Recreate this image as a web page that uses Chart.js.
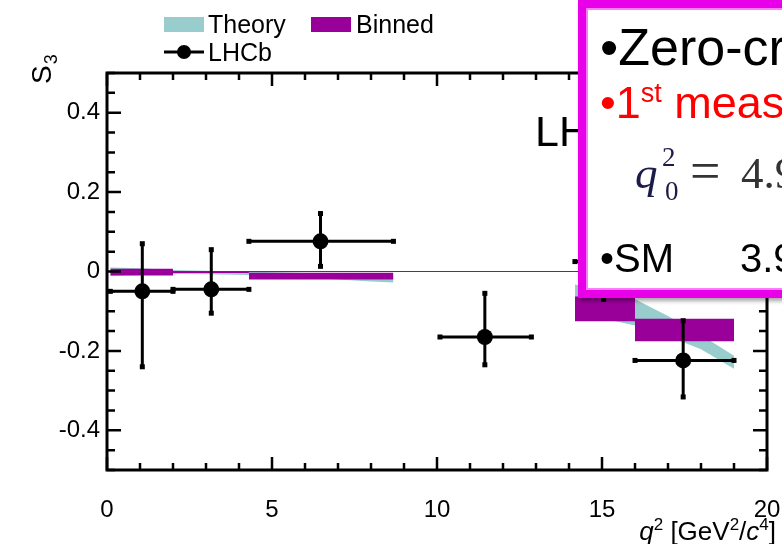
<!DOCTYPE html>
<html>
<head>
<meta charset="utf-8">
<script src="https://cdn.jsdelivr.net/npm/chart.js@4.4.1/dist/chart.umd.min.js"></script>
<style>
html,body{margin:0;padding:0;width:782px;height:544px;overflow:hidden;background:#fff;}
#wrap{position:relative;width:782px;height:544px;overflow:hidden;}
#c{position:absolute;left:0;top:0;}
#box{position:absolute;left:578px;top:0px;width:320px;height:282px;border:8px solid #e800e8;background:#fff;
 box-shadow:2px 3px 4px rgba(0,0,0,0.35), inset 0 0 0 2px #ff7cff;}
.t{position:absolute;white-space:nowrap;line-height:1;font-family:"Liberation Sans",Arial,Helvetica,sans-serif;color:#000;}
.m{position:absolute;white-space:nowrap;line-height:1;font-family:"Liberation Serif","Times New Roman",serif;}
</style>
</head>
<body>
<div id="wrap">
<canvas id="c" width="782" height="544"></canvas>
<div id="box"></div>
<div class="t" style="left:600px;top:21px;font-size:52px;">•Zero-crossing</div>
<div class="t" style="left:600px;top:80px;font-size:45px;color:#ff0000;">•1<span style="font-size:27px;position:relative;top:-16px;">st</span> measurement</div>
<div class="m" style="left:635px;top:151px;font-size:45px;font-style:italic;color:#1c1c48;">q</div>
<div class="m" style="left:662px;top:144px;font-size:27px;color:#1c1c48;">2</div>
<div class="m" style="left:665px;top:178px;font-size:27px;color:#1c1c48;">0</div>
<div class="m" style="left:690px;top:144px;font-size:54px;color:#333;">=</div>
<div class="m" style="left:741px;top:151px;font-size:45px;color:#333;">4.9</div>
<div class="t" style="left:600px;top:238px;font-size:40px;">•SM</div>
<div class="t" style="left:740px;top:238px;font-size:40px;">3.9</div>
</div>
<script>
// ---------------- data ----------------
const X_TICK_LABELS = [0, 5, 10, 15, 20];
const Y_TICK_LABELS = [-0.4, -0.2, 0, 0.2, 0.4];

// LHCb measurements of S3
const LHCB_Q2     = [1.07, 3.16, 6.47, 11.45, 15.05, 17.46];
const LHCB_Q2_LO  = [0.10, 2.00, 4.30, 10.09, 14.18, 16.00];
const LHCB_Q2_HI  = [2.00, 4.30, 8.68, 12.86, 16.00, 19.00];
const LHCB_S3     = [-0.05, -0.045, 0.076, -0.165, 0.025, -0.224];
const LHCB_ERR_UP = [0.12, 0.10, 0.07, 0.11, 0.10, 0.10];
const LHCB_ERR_DN = [0.19, 0.06, 0.063, 0.07, 0.095, 0.092];

// Binned SM prediction (boxes)
const BIN_LO  = [0.10, 2.00, 4.30, 14.18, 16.00];
const BIN_HI  = [2.00, 4.30, 8.68, 16.00, 19.00];
const BIN_MIN = [-0.010, -0.004, -0.020, -0.125, -0.176];
const BIN_MAX = [0.007, 0.000, -0.003, -0.063, -0.119];

// Theory band (two q2 regions)
const TH_Q2_A = [0.1, 1, 2, 3, 4.3, 5, 6, 7, 8, 8.68];
const TH_LO_A = [-0.011, -0.009, -0.006, -0.007, -0.009, -0.011, -0.015, -0.020, -0.025, -0.028];
const TH_HI_A = [0.010, 0.008, 0.004, 0.002, 0.000, -0.002, -0.004, -0.006, -0.008, -0.010];
const TH_Q2_B = [14.18, 15, 16, 17, 18, 19];
const TH_LO_B = [-0.100, -0.118, -0.136, -0.163, -0.196, -0.245];
const TH_HI_B = [-0.033, -0.050, -0.070, -0.112, -0.160, -0.212];

const TEAL = '#99cccc';
const PURPLE = '#990099';
// --------------------------------------

const pts = (xs, ys) => xs.map((x, i) => ({x: x, y: ys[i]}));
const datasets = [];

datasets.push({
  label: 'LHCb', data: pts(LHCB_Q2, LHCB_S3), showLine: false,
  pointRadius: 8, pointHoverRadius: 8, pointBackgroundColor: '#000', pointBorderColor: '#000', pointBorderWidth: 0,
  order: 0, errUp: LHCB_ERR_UP, errDn: LHCB_ERR_DN, xLo: LHCB_Q2_LO, xHi: LHCB_Q2_HI
});
datasets.push({
  label: 'zero', data: [{x: 0, y: 0}, {x: 20, y: 0}], borderColor: '#444', borderWidth: 1,
  pointRadius: 0, fill: false, order: 1
});
BIN_LO.forEach((lo, i) => {
  datasets.push({label: 'Binned', data: [{x: lo, y: BIN_MIN[i]}, {x: BIN_HI[i], y: BIN_MIN[i]}],
    borderColor: 'transparent', borderWidth: 0, pointRadius: 0, fill: false, order: 2});
  datasets.push({label: 'Binned', data: [{x: lo, y: BIN_MAX[i]}, {x: BIN_HI[i], y: BIN_MAX[i]}],
    borderColor: 'transparent', borderWidth: 0, pointRadius: 0, fill: '-1', backgroundColor: PURPLE, order: 2});
});
[[TH_Q2_A, TH_LO_A, TH_HI_A], [TH_Q2_B, TH_LO_B, TH_HI_B]].forEach(([q, lo, hi]) => {
  datasets.push({label: 'Theory', data: pts(q, lo), borderColor: 'transparent', borderWidth: 0,
    pointRadius: 0, fill: false, order: 3});
  datasets.push({label: 'Theory', data: pts(q, hi), borderColor: 'transparent', borderWidth: 0,
    pointRadius: 0, fill: '-1', backgroundColor: TEAL, order: 3});
});

const FONT = '"Liberation Sans", Arial, Helvetica, sans-serif';

const errorBars = {
  id: 'errorBars',
  beforeDatasetDraw(chart, args) {
    const ds = chart.data.datasets[args.index];
    if (!ds.errUp) return;
    const xs = chart.scales.x, ys = chart.scales.y, ctx = chart.ctx;
    ctx.save();
    ctx.strokeStyle = '#000'; ctx.fillStyle = '#000'; ctx.lineWidth = 3;
    ds.data.forEach((p, i) => {
      const px = xs.getPixelForValue(p.x), py = ys.getPixelForValue(p.y);
      const x0 = xs.getPixelForValue(ds.xLo[i]), x1 = xs.getPixelForValue(ds.xHi[i]);
      const y0 = ys.getPixelForValue(p.y + ds.errUp[i]), y1 = ys.getPixelForValue(p.y - ds.errDn[i]);
      ctx.beginPath();
      ctx.moveTo(x0, py); ctx.lineTo(x1, py);
      ctx.moveTo(px, y0); ctx.lineTo(px, y1);
      ctx.stroke();
      [[x0, py], [x1, py], [px, y0], [px, y1]].forEach(([cx, cy]) => ctx.fillRect(cx - 2.5, cy - 2.5, 5, 5));
    });
    ctx.restore();
  }
};

const frame = {
  id: 'frame',
  afterDatasetsDraw(chart) {
    const ctx = chart.ctx, a = chart.chartArea, xs = chart.scales.x, ys = chart.scales.y;
    ctx.save();
    ctx.strokeStyle = '#000';
    ctx.lineWidth = 2.5;
    ctx.beginPath();
    for (let v = 0; v <= 20; v++) {
      const px = xs.getPixelForValue(v);
      const L = v % 5 === 0 ? 13 : 7;
      ctx.moveTo(px, a.bottom); ctx.lineTo(px, a.bottom - L);
      ctx.moveTo(px, a.top); ctx.lineTo(px, a.top + L);
    }
    for (let k = -10; k <= 10; k++) {
      const py = ys.getPixelForValue(k * 0.05);
      const L = k % 4 === 0 ? 14 : 8;
      ctx.moveTo(a.left, py); ctx.lineTo(a.left + L, py);
      ctx.moveTo(a.right, py); ctx.lineTo(a.right - L, py);
    }
    ctx.stroke();
    ctx.lineWidth = 3;
    ctx.strokeRect(a.left, a.top, a.right - a.left, a.bottom - a.top);
    ctx.restore();
  },
  afterDraw(chart) {
    const ctx = chart.ctx, a = chart.chartArea;
    ctx.save();
    ctx.fillStyle = '#000';
    ctx.textBaseline = 'alphabetic';
    // legend
    ctx.fillStyle = TEAL; ctx.fillRect(164, 17, 40, 15);
    ctx.fillStyle = PURPLE; ctx.fillRect(311, 17, 40, 15);
    ctx.fillStyle = '#000';
    ctx.font = '25px ' + FONT;
    ctx.fillText('Theory', 208, 33);
    ctx.fillText('Binned', 356, 33);
    ctx.fillText('LHCb', 208, 61);
    ctx.lineWidth = 3; ctx.strokeStyle = '#000';
    ctx.beginPath(); ctx.moveTo(164, 52); ctx.lineTo(204, 52); ctx.stroke();
    ctx.beginPath(); ctx.arc(184, 52, 7, 0, Math.PI * 2); ctx.fill();
    // LHCb label in plot
    ctx.font = '43px ' + FONT;
    ctx.fillText('LHCb', 535, 146);
    // y title S_3 (rotated)
    ctx.save();
    ctx.translate(51, 84);
    ctx.rotate(-Math.PI / 2);
    ctx.font = '28px ' + FONT;
    ctx.fillText('S', 0, 0);
    const w = ctx.measureText('S').width;
    ctx.font = '18px ' + FONT;
    ctx.fillText('3', w + 1, 6);
    ctx.restore();
    // x title q^2 [GeV^2/c^4], right aligned
    const parts = [
      ['q', 'italic 26px ', 0], ['2', '17px ', -10], [' [GeV', '26px ', 0], ['2', '17px ', -10],
      ['/', '26px ', 0], ['c', 'italic 26px ', 0], ['4', '17px ', -10], [']', '26px ', 0]
    ];
    let total = 0;
    parts.forEach(p => { ctx.font = p[1] + FONT; total += ctx.measureText(p[0]).width; });
    let x = 776 - total;
    parts.forEach(p => { ctx.font = p[1] + FONT; ctx.fillText(p[0], x, 540 + p[2]); x += ctx.measureText(p[0]).width; });
    ctx.restore();
  }
};

new Chart(document.getElementById('c'), {
  type: 'line',
  data: {datasets: datasets},
  plugins: [errorBars, frame],
  options: {
    responsive: false,
    animation: false,
    devicePixelRatio: 1,
    layout: {padding: {left: 0, right: 15, top: 73, bottom: 0}},
    plugins: {legend: {display: false}, tooltip: {enabled: false}},
    elements: {line: {tension: 0}},
    scales: {
      x: {
        type: 'linear', min: 0, max: 20,
        afterBuildTicks: s => { s.ticks = X_TICK_LABELS.map(v => ({value: v})); },
        afterFit: s => { s.height = 74; s.paddingLeft = 0; s.paddingRight = 0; },
        grid: {display: false, drawTicks: false},
        border: {display: false},
        ticks: {font: {family: FONT, size: 24}, color: '#000', padding: 26, maxRotation: 0,
          callback: v => String(v)}
      },
      y: {
        type: 'linear', min: -0.5, max: 0.5,
        afterBuildTicks: s => { s.ticks = Y_TICK_LABELS.map(v => ({value: v})); },
        afterFit: s => { s.width = 107; s.paddingTop = 0; s.paddingBottom = 0; },
        grid: {display: false, drawTicks: false},
        border: {display: false},
        ticks: {font: {family: FONT, size: 24}, color: '#000', padding: 7,
          callback: v => (Math.abs(v) < 1e-9 ? '0' : v.toFixed(1))}
      }
    }
  }
});
</script>
</body>
</html>
